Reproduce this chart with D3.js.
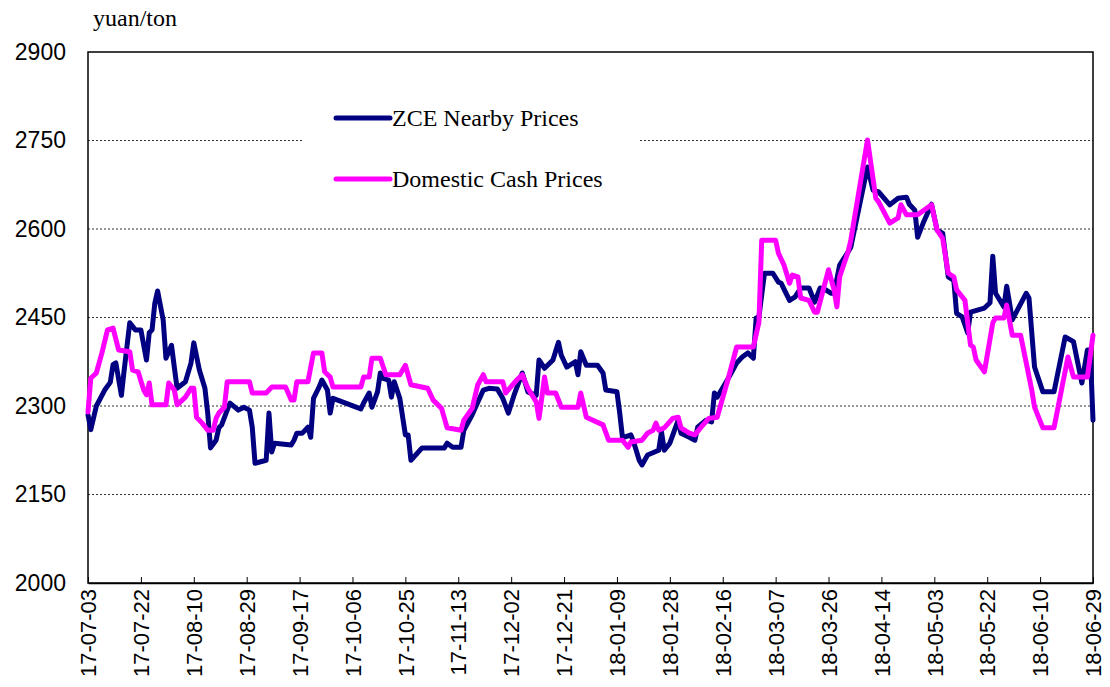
<!DOCTYPE html>
<meta charset="utf-8">
<style>
body { margin: 0; background: #fff; }
.tick text { font-family: "Liberation Sans", Arial, sans-serif; fill: #000; }
.serif { font-family: "Liberation Serif", "Times New Roman", serif; fill: #000; }
</style>
<body>
<script src="https://d3js.org/d3.v7.min.js"></script>
<script>

var width = 1110,
    height = 687;

var margin = {top: 52, right: 17, bottom: 104, left: 88};

// ZCE nearby futures prices
var zceDates = ["2017-07-03","2017-07-04","2017-07-06","2017-07-09","2017-07-11","2017-07-12","2017-07-13","2017-07-15","2017-07-16","2017-07-18",
  "2017-07-20","2017-07-22","2017-07-24","2017-07-25","2017-07-26","2017-07-27","2017-07-28","2017-07-30","2017-07-31","2017-08-02",
  "2017-08-03","2017-08-04","2017-08-07","2017-08-09","2017-08-10","2017-08-12","2017-08-14","2017-08-15","2017-08-16","2017-08-18",
  "2017-08-19","2017-08-20","2017-08-22","2017-08-23","2017-08-26","2017-08-28","2017-08-30","2017-08-31","2017-09-01","2017-09-05",
  "2017-09-06","2017-09-07","2017-09-08","2017-09-14","2017-09-15","2017-09-16","2017-09-18","2017-09-20","2017-09-21","2017-09-22",
  "2017-09-24","2017-09-25","2017-09-27","2017-09-28","2017-09-29","2017-10-09","2017-10-10","2017-10-12","2017-10-13","2017-10-15",
  "2017-10-16","2017-10-17","2017-10-19","2017-10-20","2017-10-21","2017-10-23","2017-10-25","2017-10-26","2017-10-27","2017-10-31",
  "2017-11-08","2017-11-09","2017-11-11","2017-11-14","2017-11-15","2017-11-18","2017-11-22","2017-11-24","2017-11-27","2017-11-29",
  "2017-12-01","2017-12-03","2017-12-06","2017-12-08","2017-12-11","2017-12-12","2017-12-14","2017-12-17","2017-12-19","2017-12-20",
  "2017-12-22","2017-12-25","2017-12-26","2017-12-27","2017-12-29","2018-01-02","2018-01-04","2018-01-05","2018-01-09","2018-01-10",
  "2018-01-11","2018-01-14","2018-01-15","2018-01-17","2018-01-18","2018-01-20","2018-01-24","2018-01-25","2018-01-26","2018-01-28",
  "2018-01-31","2018-02-01","2018-02-04","2018-02-06","2018-02-07","2018-02-10","2018-02-12","2018-02-13","2018-02-14","2018-02-18",
  "2018-02-21","2018-02-23","2018-02-25","2018-02-27","2018-02-28","2018-03-01","2018-03-03","2018-03-06","2018-03-08","2018-03-09",
  "2018-03-12","2018-03-14","2018-03-16","2018-03-19","2018-03-21","2018-03-23","2018-03-25","2018-03-27","2018-03-28","2018-03-30",
  "2018-04-02","2018-04-03","2018-04-09","2018-04-11","2018-04-13","2018-04-17","2018-04-20","2018-04-23","2018-04-24","2018-04-26",
  "2018-04-27","2018-04-29","2018-05-02","2018-05-04","2018-05-06","2018-05-08","2018-05-10","2018-05-11","2018-05-13","2018-05-15",
  "2018-05-16","2018-05-21","2018-05-23","2018-05-24","2018-05-25","2018-05-28","2018-05-29","2018-05-30","2018-05-31","2018-06-05",
  "2018-06-06","2018-06-08","2018-06-11","2018-06-15","2018-06-19","2018-06-22","2018-06-25","2018-06-27","2018-06-28","2018-06-29"];
var zceValues = [2285,2260,2300,2327,2340,2370,2373,2318,2361,2441,
  2429,2429,2378,2424,2429,2474,2495,2446,2381,2403,
  2366,2330,2341,2373,2407,2361,2330,2288,2229,2242,
  2263,2268,2293,2305,2293,2298,2293,2264,2203,2208,
  2288,2222,2237,2234,2242,2254,2254,2264,2247,2313,
  2332,2344,2327,2288,2313,2295,2305,2322,2298,2324,
  2356,2347,2344,2315,2341,2313,2251,2251,2208,2229,
  2229,2237,2230,2230,2259,2285,2327,2330,2329,2313,
  2288,2318,2356,2324,2318,2378,2364,2378,2408,2386,
  2366,2375,2353,2392,2369,2369,2356,2327,2324,2288,
  2246,2251,2239,2208,2200,2217,2225,2256,2225,2237,
  2276,2254,2247,2242,2264,2276,2273,2322,2315,2347,
  2373,2383,2390,2381,2449,2451,2525,2525,2510,2508,
  2479,2485,2500,2500,2476,2500,2497,2491,2491,2539,
  2561,2569,2705,2666,2663,2641,2652,2654,2642,2632,
  2586,2610,2642,2598,2593,2519,2513,2457,2451,2424,
  2459,2466,2475,2554,2491,2468,2503,2475,2446,2491,
  2483,2366,2324,2324,2417,2409,2339,2395,2395,2276];

// domestic cash prices
var cashDates = ["2017-07-03","2017-07-04","2017-07-06","2017-07-08","2017-07-10","2017-07-12","2017-07-14","2017-07-18","2017-07-19","2017-07-21",
  "2017-07-23","2017-07-24","2017-07-25","2017-07-26","2017-07-31","2017-08-01","2017-08-03","2017-08-04","2017-08-07","2017-08-09",
  "2017-08-10","2017-08-11","2017-08-13","2017-08-15","2017-08-17","2017-08-18","2017-08-19","2017-08-21","2017-08-22","2017-08-30",
  "2017-08-31","2017-09-05","2017-09-07","2017-09-12","2017-09-14","2017-09-15","2017-09-16","2017-09-20","2017-09-22","2017-09-25",
  "2017-09-26","2017-09-28","2017-09-29","2017-10-09","2017-10-10","2017-10-12","2017-10-13","2017-10-16","2017-10-18","2017-10-23",
  "2017-10-25","2017-10-27","2017-11-02","2017-11-04","2017-11-07","2017-11-09","2017-11-14","2017-11-15","2017-11-18","2017-11-20",
  "2017-11-22","2017-11-23","2017-11-29","2017-11-30","2017-12-04","2017-12-06","2017-12-08","2017-12-11","2017-12-12","2017-12-14",
  "2017-12-15","2017-12-18","2017-12-20","2017-12-26","2017-12-27","2017-12-29","2018-01-04","2018-01-06","2018-01-11","2018-01-13",
  "2018-01-14","2018-01-18","2018-01-20","2018-01-22","2018-01-23","2018-01-24","2018-01-26","2018-01-29","2018-01-31","2018-02-01",
  "2018-02-04","2018-02-06","2018-02-08","2018-02-11","2018-02-14","2018-02-18","2018-02-21","2018-02-27","2018-03-01","2018-03-02",
  "2018-03-07","2018-03-08","2018-03-10","2018-03-12","2018-03-13","2018-03-15","2018-03-16","2018-03-19","2018-03-21","2018-03-22",
  "2018-03-26","2018-03-28","2018-03-29","2018-03-30","2018-04-02","2018-04-03","2018-04-09","2018-04-12","2018-04-13","2018-04-17",
  "2018-04-20","2018-04-21","2018-04-23","2018-04-27","2018-05-02","2018-05-04","2018-05-06","2018-05-08","2018-05-10","2018-05-11",
  "2018-05-14","2018-05-16","2018-05-17","2018-05-18","2018-05-21","2018-05-24","2018-05-25","2018-05-28","2018-05-29","2018-05-31",
  "2018-06-03","2018-06-07","2018-06-08","2018-06-11","2018-06-15","2018-06-20","2018-06-22","2018-06-27","2018-06-29"];
var cashValues = [2290,2347,2356,2390,2429,2432,2395,2392,2361,2358,
  2327,2319,2339,2302,2302,2339,2327,2302,2315,2330,
  2330,2281,2271,2259,2259,2279,2288,2298,2341,2341,
  2322,2322,2332,2332,2310,2310,2341,2341,2390,2390,
  2358,2349,2332,2332,2349,2349,2381,2381,2353,2353,
  2369,2336,2330,2310,2296,2263,2259,2276,2296,2336,
  2353,2341,2341,2322,2344,2353,2330,2307,2279,2349,
  2322,2322,2298,2298,2322,2281,2268,2242,2242,2230,
  2239,2242,2254,2259,2271,2259,2263,2279,2281,2263,
  2254,2251,2263,2279,2281,2347,2400,2400,2442,2581,
  2581,2559,2539,2508,2522,2519,2483,2479,2459,2459,
  2531,2497,2468,2519,2561,2581,2751,2652,2646,2610,
  2619,2641,2624,2624,2641,2598,2584,2525,2519,2497,
  2479,2403,2400,2378,2358,2441,2449,2449,2471,2420,
  2420,2327,2298,2263,2263,2383,2349,2349,2420];

var seriesNames = ["ZCE Nearby Prices", "Domestic Cash Prices"];
var seriesColors = ["#000080", "#ff00ff"];

var yTicks = [2000, 2150, 2300, 2450, 2600, 2750, 2900];
var xTickLabels = ["17-07-03","17-07-22","17-08-10","17-08-29","17-09-17","17-10-06","17-10-25","17-11-13","17-12-02","17-12-21",
  "18-01-09","18-01-28","18-02-16","18-03-07","18-03-26","18-04-14","18-05-03","18-05-22","18-06-10","18-06-29"];
var unitLabel = "yuan/ton";

var parse = d3.timeParse("%Y-%m-%d");
var parseTick = d3.timeParse("%y-%m-%d");

var series = [
  zceDates.map(function(d, i) { return {date: parse(d), value: zceValues[i]}; }),
  cashDates.map(function(d, i) { return {date: parse(d), value: cashValues[i]}; })
];

var svg = d3.select("body").append("svg")
    .attr("width", width)
    .attr("height", height);

var x = d3.scaleTime()
    .domain([parse("2017-07-03"), parse("2018-06-29")])
    .range([margin.left, width - margin.right]);

var y = d3.scaleLinear()
    .domain([2000, 2900])
    .range([height - margin.bottom, margin.top]);

// dotted gridlines
svg.append("g")
  .selectAll("line")
  .data(yTicks.slice(1, -1))
  .enter().append("line")
    .attr("x1", margin.left)
    .attr("x2", width - margin.right)
    .attr("y1", function(d) { return y(d); })
    .attr("y2", function(d) { return y(d); })
    .attr("stroke", "#333")
    .attr("stroke-width", 1)
    .attr("stroke-dasharray", "2,2");

// frame
svg.append("rect")
    .attr("x", margin.left)
    .attr("y", margin.top)
    .attr("width", width - margin.right - margin.left)
    .attr("height", height - margin.bottom - margin.top)
    .attr("fill", "none")
    .attr("stroke", "#000")
    .attr("stroke-width", 1.5);

// y axis labels
var yAxis = svg.append("g")
    .attr("transform", "translate(" + margin.left + ",0)")
    .call(d3.axisLeft(y).tickValues(yTicks).tickFormat(d3.format("d")).tickSize(0).tickPadding(22));
yAxis.select(".domain").remove();
yAxis.selectAll("text").style("font-size", "23px");

// x axis, inward ticks
var xAxis = svg.append("g")
    .attr("transform", "translate(0," + (height - margin.bottom) + ")")
    .call(d3.axisBottom(x)
      .tickValues(xTickLabels.map(function(t) { return parseTick(t); }))
      .tickFormat(d3.timeFormat("%y-%m-%d"))
      .tickSizeInner(-6)
      .tickSizeOuter(0)
      .tickPadding(6));
xAxis.select(".domain").attr("stroke-width", 1.5);
xAxis.selectAll("line").attr("stroke", "#000");
xAxis.selectAll("text")
    .style("font-size", "22px")
    .attr("text-anchor", "end")
    .attr("dy", "0.35em")
    .attr("transform", "rotate(-90)")
    .attr("x", -6)
    .attr("y", 0);

// lines
var line = d3.line()
    .x(function(d) { return x(d.date); })
    .y(function(d) { return y(d.value); });

svg.append("g")
  .selectAll("path")
  .data(series)
  .enter().append("path")
    .attr("d", line)
    .attr("fill", "none")
    .attr("stroke", function(d, i) { return seriesColors[i]; })
    .attr("stroke-width", 5)
    .attr("stroke-linejoin", "round")
    .attr("stroke-linecap", "round");

// legend
var legend = svg.append("g");
legend.append("rect")
    .attr("x", 302).attr("y", 92)
    .attr("width", 336).attr("height", 112)
    .attr("fill", "#fff");

var item = legend.selectAll("g")
  .data(seriesNames)
  .enter().append("g")
    .attr("transform", function(d, i) { return "translate(336," + (118 + i * 61) + ")"; });
item.append("line")
    .attr("x1", 0).attr("x2", 54)
    .attr("stroke", function(d, i) { return seriesColors[i]; })
    .attr("stroke-width", 5)
    .attr("stroke-linecap", "round");
item.append("text")
    .attr("class", "serif")
    .attr("x", 56)
    .attr("dy", "0.35em")
    .style("font-size", "24px")
    .text(function(d) { return d; });

svg.append("text")
    .attr("class", "serif")
    .attr("x", 93)
    .attr("y", 26)
    .style("font-size", "24px")
    .text(unitLabel);

</script>
